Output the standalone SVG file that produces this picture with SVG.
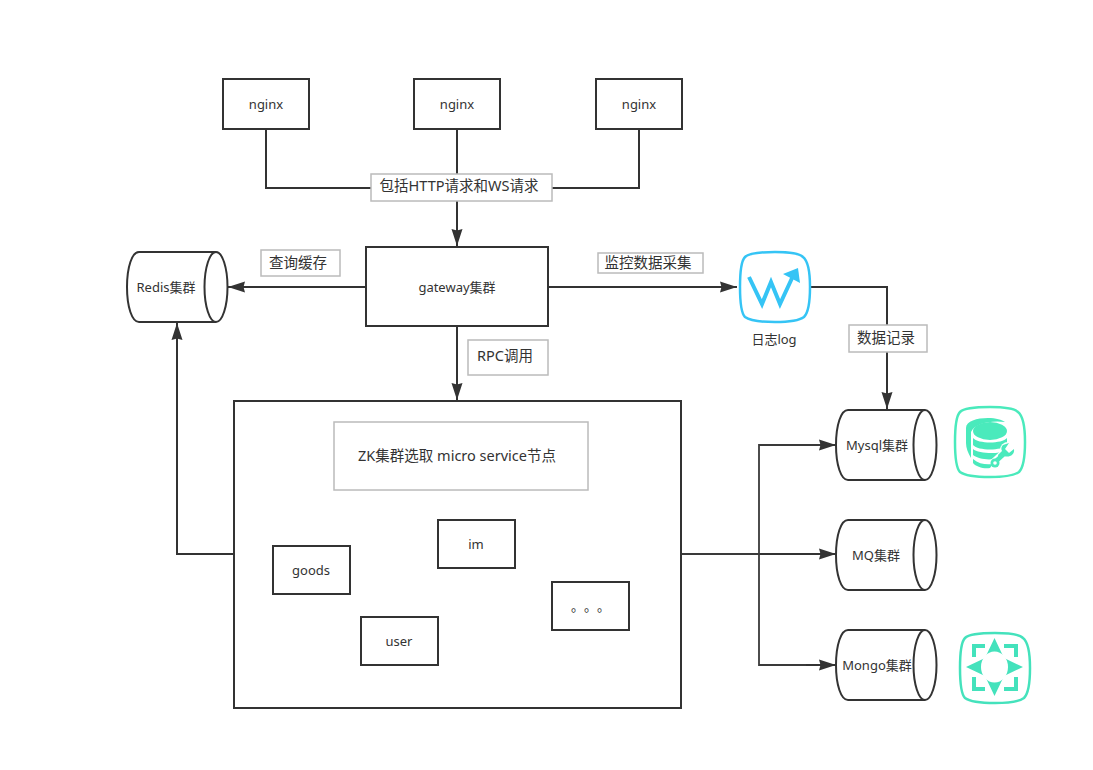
<svg xmlns="http://www.w3.org/2000/svg" width="1093" height="770" viewBox="0 0 1093 770">
<style>
text{font-family:"Noto Sans","Noto Sans CJK SC",sans-serif;fill:#333;text-anchor:middle;dominant-baseline:central}
.s{font-size:13px}
.m{font-size:14.5px}
.n{fill:#fff;stroke:#333;stroke-width:2}
.l{fill:#fff;stroke:#bbb;stroke-width:1.5}
.c{fill:none;stroke:#333;stroke-width:2}
.g{fill:none;stroke:#3a3a3a;stroke-width:1.8}
.f{fill:#4aeabc;stroke:none}
.h{fill:#44e2bc;stroke:none}
</style>
<defs>
<marker id="a" markerUnits="userSpaceOnUse" markerWidth="18" markerHeight="12" refX="17" refY="6" orient="auto"><path d="M0,0.500L17,6L0,11.500L1.500,6Z" fill="#333"/></marker>
<g id="cy"><path class="n" d="M0,0H-77C-84,0-89,15-89,35C-89,55-84,70-77,70H0"/><ellipse class="n" cx="0" cy="35" rx="11.5" ry="35"/></g>
<path id="sq" d="M36,1C50,1 60,2 64,6C69,10 71,20 71,36C71,52 69,62 65,66C61,69 52,71 36,71C20,71 10,69 6,66C2,62 1,52 1,36C1,20 2,10 6,6C10,2 20,1 36,1Z"/>
</defs>
<g id="connectors">
<path class="c" d="M266,129V188H371"/>
<path class="c" d="M639,129V188H552"/>
<path class="c" d="M457,129V174"/>
<path class="c" d="M457,201V246" marker-end="url(#a)"/>
<path class="c" d="M366,287H228" marker-end="url(#a)"/>
<path class="c" d="M548,287H737" marker-end="url(#a)"/>
<path class="c" d="M811,287H887V409" marker-end="url(#a)"/>
<path class="c" d="M457,326V400" marker-end="url(#a)"/>
<path class="c" d="M233,554H177V323" marker-end="url(#a)"/>
<path class="g" d="M681,554H759V445H836" marker-end="url(#a)"/>
<path class="c" d="M681,554H836" marker-end="url(#a)"/>
<path class="g" d="M681,554H759V665H806"/>
<path class="c" d="M806,665H836" marker-end="url(#a)"/>
</g>
<g id="nginx1"><rect class="n" x="223" y="79" width="86" height="50"/><text class="s" x="266" y="103.500">nginx</text></g>
<g id="nginx2"><rect class="n" x="414" y="79" width="86" height="50"/><text class="s" x="457" y="103.500">nginx</text></g>
<g id="nginx3"><rect class="n" x="596" y="79" width="86" height="50"/><text class="s" x="639" y="103.500">nginx</text></g>
<g id="label-request"><rect class="l" x="371" y="174" width="181" height="27"/><text class="m" x="459" y="185">包括HTTP请求和WS请求</text></g>
<g id="gateway"><rect class="n" x="366" y="247" width="182" height="79"/><text class="s" x="457" y="287">gateway集群</text></g>
<g id="label-cache"><rect class="l" x="261" y="250" width="79" height="26"/><text class="m" x="298" y="262">查询缓存</text></g>
<g id="label-monitor"><rect class="l" x="598" y="253" width="105" height="20"/><text class="m" x="648" y="262">监控数据采集</text></g>
<g id="label-rpc"><rect class="l" x="468" y="340" width="80" height="35"/><text class="m" x="505" y="355">RPC调用</text></g>
<g id="label-record"><rect class="l" x="849" y="325" width="78" height="27"/><text class="m" x="886" y="337">数据记录</text></g>
<g id="redis"><use href="#cy" x="216" y="252"/><text class="s" x="166" y="287">Redis集群</text></g>
<g id="log">
<use href="#sq" x="739" y="251" fill="#fff" stroke="#35c4f5" stroke-width="2.500"/>
<path d="M749,277L762,304L771,282L780,304L793,276" fill="none" stroke="#35c4f5" stroke-width="4"/>
<path d="M783,274L798,268L800,283Z" fill="#35c4f5"/>
<text class="s" x="774" y="339">日志log</text>
</g>
<g id="services"><rect class="n" x="234" y="401" width="447" height="307"/></g>
<g id="zk"><rect class="l" x="334" y="422" width="254" height="68"/><text class="m" x="457" y="454.500">ZK集群选取 micro service节点</text></g>
<g id="goods"><rect class="n" x="273" y="546" width="77" height="48"/><text class="s" x="311" y="570">goods</text></g>
<g id="im"><rect class="n" x="438" y="520" width="77" height="48"/><text class="s" x="476" y="544">im</text></g>
<g id="user"><rect class="n" x="361" y="617" width="77" height="48"/><text class="s" x="399" y="641">user</text></g>
<g id="more"><rect class="n" x="552" y="582" width="77" height="48"/><text class="s" x="571 584 597" y="606" style="text-anchor:start">。。。</text></g>
<g id="mysql"><use href="#cy" x="925" y="410"/><text class="s" x="877" y="445">Mysql集群</text></g>
<g id="mq"><use href="#cy" x="925" y="520"/><text class="s" x="876" y="555">MQ集群</text></g>
<g id="mongo"><use href="#cy" x="925" y="630"/><text class="s" x="877" y="665">Mongo集群</text></g>
<g id="mysql-icon">
<use href="#sq" x="954" y="406" fill="none" stroke="#4aeabc" stroke-width="2.500"/>
<path class="f" d="M966,428C966,421 977,418 988,418C996,418 1002,420 1005,422C990,420 974,424 971,432V458C968,453 966,448 966,443Z"/>
<ellipse class="f" cx="990" cy="431" rx="17" ry="9"/>
<path class="f" d="M973,438C978,444 1002,444 1007,438V445C1002,451 978,451 973,445Z"/>
<path class="f" d="M973,449C978,454 1000,454 1004,451L998,458C990,461 978,459 973,455Z"/>
<path class="f" d="M973,459C979,464 986,465 993,464L990,468C984,469 976,467 973,463Z"/>
<path d="M994,463L1006,452" stroke="#fff" stroke-width="9" fill="none"/>
<circle cx="1008" cy="450" r="8" fill="#fff"/>
<path d="M994,463L1006,452" stroke="#4aeabc" stroke-width="4.500" fill="none"/>
<path class="f" d="M1003,445L1009,443L1005,449L1009,453L1014,449C1015,455 1009,458 1004,456L999,459L998,455L1002,451C1001,449 1001,447 1003,445Z"/>
<circle cx="995" cy="463" r="4.500" fill="#4aeabc"/><circle cx="995" cy="463" r="1.800" fill="#fff"/>
</g>
<g id="mongo-icon">
<use href="#sq" x="959" y="632" stroke="#44e2bc" stroke-width="2.500" fill="none"/>
<path d="M974,657V646H985M1004,646H1016V657M1016,677V689H1004M985,689H974V677" stroke="#44e2bc" stroke-width="4" fill="none"/>
<path class="h" d="M994.500,638L1004,658L1023,667L1004,676L994.500,696L985,676L966,667L985,658Z"/>
<ellipse cx="994.500" cy="667" rx="13.500" ry="15.500" fill="#fff"/>
</g>
</svg>
